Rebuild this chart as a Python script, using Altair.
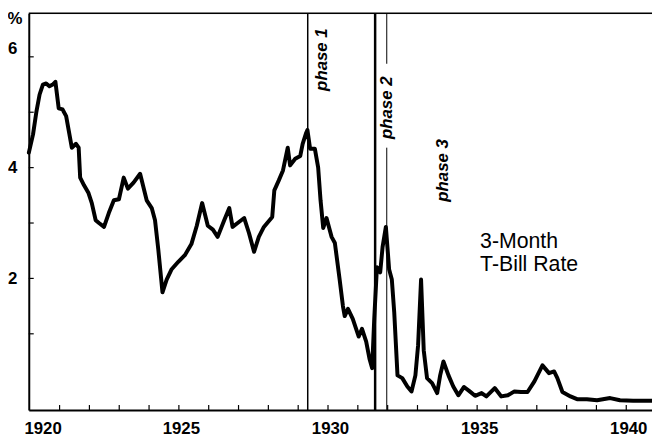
import altair as alt
import pandas as pd

# ---- data ----
years = [1919.97, 1920.11, 1920.22, 1920.33, 1920.44, 1920.55, 1920.66, 1920.77, 1920.86, 1920.97,
         1921.10, 1921.22, 1921.33, 1921.41, 1921.55, 1921.64, 1921.69, 1921.82, 1921.97, 1922.08,
         1922.21, 1922.32, 1922.49, 1922.65, 1922.82, 1922.99, 1923.15, 1923.29, 1923.48, 1923.70,
         1923.92, 1924.09, 1924.20, 1924.31, 1924.45, 1924.59, 1924.75, 1924.98, 1925.20, 1925.42,
         1925.60, 1925.78, 1925.97, 1926.14, 1926.30, 1926.52, 1926.69, 1926.80, 1926.97, 1927.19,
         1927.35, 1927.52, 1927.68, 1927.85, 1928.13, 1928.20, 1928.35, 1928.49, 1928.65, 1928.73,
         1928.90, 1929.07, 1929.15, 1929.27, 1929.31, 1929.40, 1929.56, 1929.67, 1929.75, 1929.84,
         1929.95, 1930.12, 1930.23, 1930.39, 1930.50, 1930.56, 1930.67, 1930.83, 1931.03, 1931.14,
         1931.28, 1931.39, 1931.48, 1931.55, 1931.64, 1931.75, 1931.83, 1931.94, 1932.05, 1932.14,
         1932.22, 1932.33, 1932.49, 1932.66, 1932.80, 1932.93, 1933.02, 1933.12, 1933.21, 1933.32,
         1933.49, 1933.66, 1933.76, 1933.87, 1934.04, 1934.20, 1934.37, 1934.56, 1934.73, 1934.93,
         1935.15, 1935.31, 1935.59, 1935.81, 1936.03, 1936.25, 1936.47, 1936.69, 1936.92, 1937.19,
         1937.41, 1937.58, 1937.69, 1937.86, 1938.13, 1938.35, 1938.68, 1939.02, 1939.46, 1939.79,
         1940.23, 1940.86]
rates = [4.27, 4.60, 5.00, 5.32, 5.50, 5.52, 5.47, 5.50, 5.55, 5.07,
         5.05, 4.93, 4.60, 4.36, 4.43, 4.36, 3.82, 3.68, 3.54, 3.36,
         3.05, 3.00, 2.93, 3.18, 3.41, 3.43, 3.82, 3.62, 3.73, 3.89,
         3.41, 3.27, 3.05, 2.52, 1.75, 1.98, 2.16, 2.30, 2.42, 2.62,
         2.95, 3.36, 2.95, 2.88, 2.75, 3.05, 3.27, 2.93, 3.00, 3.09,
         2.82, 2.48, 2.75, 2.93, 3.11, 3.59, 3.77, 3.95, 4.36, 4.04,
         4.16, 4.21, 4.43, 4.63, 4.68, 4.34, 4.34, 4.00, 3.41, 2.91,
         3.09, 2.75, 2.64, 1.98, 1.50, 1.32, 1.45, 1.27, 0.95, 1.09,
         0.86, 0.55, 0.38, 1.27, 2.20, 2.11, 2.57, 2.93, 2.16, 1.98,
         1.39, 0.25, 0.20, 0.05, -0.04, 0.25, 0.79, 1.98, 0.70, 0.20,
         0.11, -0.07, 0.25, 0.50, 0.25, 0.05, -0.11, 0.04, -0.03, -0.12,
         -0.07, -0.13, 0.02, -0.13, -0.11, -0.04, -0.05, -0.05, 0.14, 0.43,
         0.29, 0.32, 0.20, -0.05, -0.13, -0.18, -0.18, -0.20, -0.16, -0.20,
         -0.21, -0.21]

x_label_years = [1920, 1925, 1930, 1935, 1940]
x_tick_years = list(range(1921, 1941))
y_label_values = [2, 4, 6]
y_tick_values = [1, 2, 3, 4, 5, 6]

# phase boundary lines (segments: x, from, to, width)
line_x = [1929.32, 1931.58, 1931.97, 1931.97]
line_from = [6.786, 6.786, 6.786, 4.36]
line_to = [-0.375, -0.375, 5.875, -0.375]
line_w = [1.5, 2.5, 1.0, 1.0]

phase_text = ["phase 1", "phase 2", "phase 3"]
phase_x = [1929.80, 1931.98, 1933.85]
phase_y = [5.95, 5.08, 3.95]

series_label = ["3-Month", "T-Bill Rate"]
series_label_x = [1935.10]
series_label_y = [2.86]

W, H = 630, 401
FONT = "Liberation Sans"

xs = alt.Scale(domain=[1919.967, 1940.863], nice=False, zero=False)
ys = alt.Scale(domain=[-0.375, 6.786], nice=False, zero=False)

df = pd.DataFrame({"year": years, "rate": rates})
xt = pd.DataFrame({"year": x_tick_years})
yt = pd.DataFrame({"v": y_tick_values})
lines = pd.DataFrame({"x": line_x, "y1": line_from, "y2": line_to, "w": line_w})
phases = pd.DataFrame({"x": phase_x, "y": phase_y, "t": phase_text})
lab = pd.DataFrame({"x": series_label_x, "y": series_label_y})

base_x_axis = alt.Axis(values=x_label_years, format="d", title=None, ticks=False, grid=False,
                       domainColor="black", domainWidth=2, labelFont=FONT, labelFontSize=17,
                       labelFontWeight="bold", labelColor="black", labelPadding=11,
                       labelFlush=False,
                       labelOffset={"condition": {"test": "datum.value == 1920", "value": 13}, "value": 2})
base_y_axis = alt.Axis(values=y_label_values, format="d", title=None, ticks=False, grid=False,
                       domainColor="black", domainWidth=2, labelFont=FONT, labelFontSize=17,
                       labelFontWeight="bold", labelColor="black", labelPadding=12,
                       labelFlush=False,
                       labelOffset={"condition": {"test": "datum.value == 6", "value": -8}, "value": 0})

curve = alt.Chart(df).mark_line(color="black", strokeWidth=4, strokeJoin="round", strokeCap="round").encode(
    x=alt.X("year:Q", scale=xs, axis=base_x_axis),
    y=alt.Y("rate:Q", scale=ys, axis=base_y_axis),
)

xticks = alt.Chart(xt).mark_rule(color="black", strokeWidth=1.2).encode(
    x=alt.X("year:Q", scale=xs), y=alt.value(H), y2=alt.value(H - 5))
yticks = alt.Chart(yt).mark_rule(color="black", strokeWidth=1.2).encode(
    y=alt.Y("v:Q", scale=ys), x=alt.value(0), x2=alt.value(5))

top_border = alt.Chart(pd.DataFrame({"a": [0]})).mark_rule(color="black", strokeWidth=1.5).encode(
    x=alt.value(0), x2=alt.value(W), y=alt.value(0))

vlines = alt.Chart(lines).mark_rule(color="black").encode(
    x=alt.X("x:Q", scale=xs), y=alt.Y("y1:Q", scale=ys), y2="y2:Q",
    strokeWidth=alt.StrokeWidth("w:Q", scale=None))

phase_marks = alt.Chart(phases).mark_text(angle=270, font=FONT, fontSize=17, fontStyle="italic",
                                          fontWeight="bold", color="black", align="center",
                                          baseline="middle").encode(
    x=alt.X("x:Q", scale=xs), y=alt.Y("y:Q", scale=ys), text="t:N")

series_text = alt.Chart(lab).mark_text(font=FONT, fontSize=21.5, align="left", baseline="top",
                                       lineHeight=24, color="black").encode(
    x=alt.X("x:Q", scale=xs), y=alt.Y("y:Q", scale=ys), text=alt.value(series_label))

pct = alt.Chart(pd.DataFrame({"a": [0]})).mark_text(font=FONT, fontSize=17, fontWeight="bold",
                                                     color="black", align="center", baseline="top").encode(
    x=alt.value(-14), y=alt.value(-2), text=alt.value("%"))

chart = alt.layer(vlines, curve, xticks, yticks, top_border, phase_marks, series_text, pct).properties(
    width=W, height=H,
    autosize=alt.AutoSizeParams(type="none"),
    padding={"left": 21, "top": 3, "right": 0, "bottom": 28},
).configure_view(strokeWidth=0).configure(background="white")

chart.save("out.html", embed_options={"renderer": "svg", "actions": False})
